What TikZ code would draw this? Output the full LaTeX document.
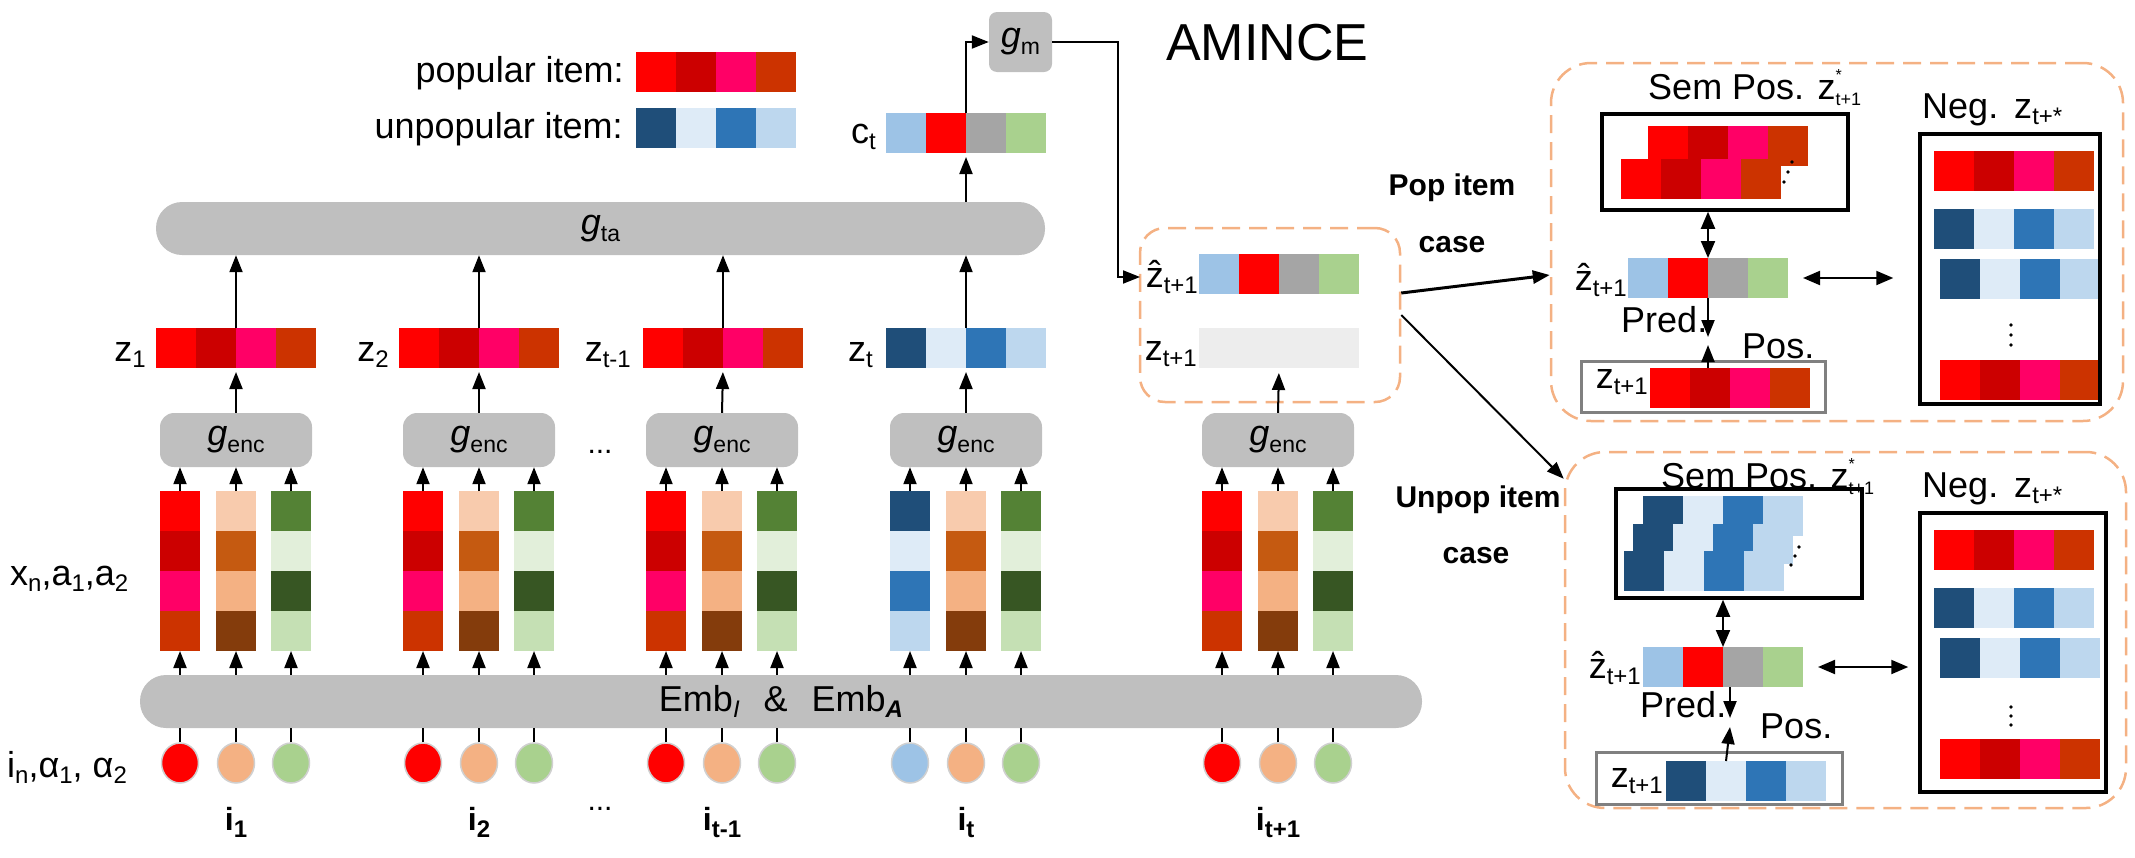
\documentclass[tikz,border=0pt]{standalone}
\usepackage{fontspec}
\setmainfont{Liberation Sans}
\usetikzlibrary{arrows.meta,shapes.geometric}

\definecolor{cR}{HTML}{FF0000}
\definecolor{cDR}{HTML}{CC0000}
\definecolor{cPk}{HTML}{FF0066}
\definecolor{cOR}{HTML}{CC3300}
\definecolor{bD}{HTML}{1F4E79}
\definecolor{bL}{HTML}{DEEBF7}
\definecolor{bM}{HTML}{2E75B6}
\definecolor{bLL}{HTML}{BDD7EE}
\definecolor{o1}{HTML}{F8CBAD}
\definecolor{o2}{HTML}{C55A11}
\definecolor{o3}{HTML}{F4B183}
\definecolor{o4}{HTML}{843C0C}
\definecolor{g1}{HTML}{548235}
\definecolor{g2}{HTML}{E2EFDA}
\definecolor{g3}{HTML}{375623}
\definecolor{g4}{HTML}{C5E0B4}
\definecolor{q1}{HTML}{9DC3E6}
\definecolor{q3}{HTML}{A5A5A5}
\definecolor{q4}{HTML}{A9D18E}
\definecolor{gr}{HTML}{BFBFBF}
\definecolor{emp}{HTML}{EDEDED}
\definecolor{dsh}{HTML}{F4B183}
\definecolor{gbd}{HTML}{808080}
\definecolor{cbd}{HTML}{D0D0D0}

\def\popc{cR,cDR,cPk,cOR}
\def\unpc{bD,bL,bM,bLL}
\def\orgc{o1,o2,o3,o4}
\def\grnc{g1,g2,g3,g4}
\def\ctc{q1,cR,q3,q4}

\newcommand{\sbs}[1]{\raisebox{-6pt}{\fontsize{24}{26}\selectfont #1}}
\newcommand{\gl}[1]{{\fontsize{36}{40}\selectfont\itshape g}\raisebox{-7pt}{\fontsize{23}{25}\selectfont #1}}
\newcommand{\zh}{\ooalign{z\cr\hidewidth\raisebox{1pt}{ˆ}\hidewidth\cr}}
\newcommand{\ib}[1]{{\bfseries\fontsize{32}{36}\selectfont i\raisebox{-7pt}{\fontsize{24}{26}\selectfont #1}}}
\newcommand{\supsub}[2]{\makebox[0pt][l]{\raisebox{19pt}{\fontsize{16}{18}\selectfont #1}}\raisebox{-6pt}{\fontsize{18}{20}\selectfont #2}}

% bar of 4 cells: name, left, top, colours
\newcommand{\mkbar}[4]{%
  \node[cellbox, minimum width=160pt, minimum height=40pt] (#1) at ({#2+80},{#3+20}) {};
  \foreach \clr [count=\i from 0] in #4 {\fill[\clr] ({#2+40*\i},{#3}) rectangle ++(40,40);}%
}
% column of 4 cells: name, left, top, colours
\newcommand{\mkcol}[4]{%
  \node[cellbox, minimum width=40pt, minimum height=160pt] (#1) at ({#2+20},{#3+80}) {};
  \foreach \clr [count=\i from 0] in #4 {\fill[\clr] ({#2},{#3+40*\i}) rectangle ++(40,40);}%
}
% group: id, centre x, item colours, item circle colour, label
\newcommand{\grp}[5]{%
  \mkcol{a#1}{#2-76}{491}{#3}
  \mkcol{b#1}{#2-20}{491}{\orgc}
  \mkcol{c#1}{#2+35}{491}{\grnc}
  \node[gbox] (enc#1) at (#2,440) {\gl{enc}};
  \node[circ, fill=#4] (ca#1) at ({#2-56},763) {};
  \node[circ, fill=o3] (cb#1) at ({#2},763) {};
  \node[circ, fill=q4] (cc#1) at ({#2+55},763) {};
  \foreach \n in {a,b,c} {
    \draw[plain] (c\n#1.north) -- (c\n#1.north |- emb.south);
    \draw[arr] (\n#1.south |- emb.north) -- (\n#1.south);
    \draw[arr] (\n#1.north) -- (\n#1.north |- enc#1.south);
  }
  \node[anchor=base, inner sep=0] (il#1) at (#2,830) {\ib{#5}};
}

\tikzset{
  arr/.style={line width=2pt, -{Triangle[length=17pt,width=13pt]}},
  dbl/.style={line width=2pt, {Triangle[length=17pt,width=14pt]}-{Triangle[length=17pt,width=14pt]}},
  plain/.style={line width=2pt},
  cellbox/.style={inner sep=0, outer sep=0, draw=none},
  gbar/.style={fill=gr, rounded corners=26pt, inner sep=0, minimum height=53pt, font=\fontsize{36}{40}\selectfont},
  gbox/.style={fill=gr, rounded corners=14pt, inner sep=0, minimum width=152pt, minimum height=54pt},
  circ/.style={ellipse, draw=cbd, line width=1.5pt, inner sep=0, minimum width=37pt, minimum height=40pt},
  dbox/.style={draw=dsh, dash pattern=on 18pt off 9pt, line width=2.5pt, inner sep=0},
  blk/.style={draw=black, line width=3.5pt, inner sep=0},
  gryb/.style={draw=gbd, line width=3pt, inner sep=0},
  lab/.style={font=\fontsize{36}{40}\selectfont, inner sep=0},
  bl/.style={font=\bfseries\fontsize{30}{34}\selectfont, inner sep=0},
}

\begin{document}
\begin{tikzpicture}[x=1pt,y=-1pt]
\useasboundingbox (0,0) rectangle (2135,857);

% legend
\node[lab, anchor=base east] (poplab) at (624,82) {popular item:};
\mkbar{popleg}{636}{52}{\popc}
\node[lab, anchor=base east] (unplab) at (623,138) {unpopular item:};
\mkbar{unpleg}{636}{108}{\unpc}

% grey layers
\node[gbar, minimum width=889pt] (gta) at (600.5,228.5) {\gl{ta}};
\node[gbar, minimum width=1282pt] (emb) at (781,701.5)
  {Emb\sbs{\itshape I}\hspace{24pt}\&\hspace{24pt}Emb\sbs{\bfseries\itshape A}};
\node[fill=gr, rounded corners=8pt, minimum width=63pt, minimum height=60pt, inner sep=0] (gm) at (1020.5,42) {\gl{m}};
\node[font=\fontsize{52}{56}\selectfont, anchor=base west, inner sep=0] (title) at (1166,60) {AMINCE};

% c_t
\mkbar{ct}{886}{113}{\ctc}
\node[lab, anchor=base east] (ctlab) at (876,143) {c\sbs{t}};

% z bars
\mkbar{z1}{156}{328}{\popc}
\mkbar{z2}{399}{328}{\popc}
\mkbar{z3}{643}{328}{\popc}
\mkbar{z4}{886}{328}{\unpc}
\node[lab, anchor=base east] (z1lab) at (146,361) {z\sbs{1}};
\node[lab, anchor=base east] (z2lab) at (389,361) {z\sbs{2}};
\node[lab, anchor=base east] (z3lab) at (631,361) {z\sbs{t-1}};
\node[lab, anchor=base east] (z4lab) at (873,361) {z\sbs{t}};

% left labels
\node[lab, anchor=base west] (xlab) at (10,585) {x\sbs{n},a\sbs{1},a\sbs{2}};
\node[lab, anchor=base west] (ilab) at (7,777) {i\sbs{n},α\sbs{1}, α\sbs{2}};

% groups
\grp{1}{236}{\popc}{cR}{1}
\grp{2}{479}{\popc}{cR}{2}
\grp{3}{722}{\popc}{cR}{t-1}
\grp{4}{966}{\unpc}{q1}{t}
\grp{5}{1278}{\popc}{cR}{t+1}

\node[font=\fontsize{30}{34}\selectfont, anchor=base, inner sep=0] (dotsA) at (600,453) {...};
\node[font=\fontsize{30}{34}\selectfont, anchor=base, inner sep=0] (dotsB) at (600,810) {...};

% prediction box
\node[dbox, rounded corners=25pt, minimum width=260pt, minimum height=174pt] (predbox) at (1270,315) {};
\mkbar{zhp}{1199}{254}{\ctc}
\node[cellbox, fill=emp, minimum width=160pt, minimum height=40pt] (zp) at (1279,348) {};
\node[lab, anchor=base east] (zhplab) at (1198,287) {\zh\sbs{t+1}};
\node[lab, anchor=base east] (zplab) at (1197,360) {z\sbs{t+1}};

% connectors left part
\foreach \k in {1,2,3,4} {
  \draw[arr, shorten >=4pt] (enc\k.north) -- (z\k.south);
  \draw[arr] (z\k.north) -- (z\k.north |- gta.south);
}
\draw[arr, shorten >=5pt] (enc5.north) -- (zp.south);
\draw[arr, shorten >=4pt] (ct.south |- gta.north) -- (ct.south);
\draw[arr] (ct.north) |- (gm.west);
\coordinate (zin) at (1140,277);
\draw[arr] (gm.east) -- ++(66,0) |- (zin);

% ---------- Pop case ----------
\node[dbox, rounded corners=40pt, minimum width=572pt, minimum height=358pt] (popbox) at (1837,242) {};
\node[bl, anchor=base] (poptxt) at (1452,195) {Pop item};
\node[bl, anchor=base] (popcase) at (1452,252) {case};
\draw[arr, line width=3pt] ([yshift=22pt]predbox.east) -- ([yshift=-33pt]popbox.west);

\mkbar{s1a}{1648}{126}{\popc}
\mkbar{s1b}{1621}{159}{\popc}
\fill (1784,182) circle (1.8) (1788,172) circle (1.8) (1792,162) circle (1.8);
\node[blk, minimum width=246pt, minimum height=96pt] (sem1) at (1725,162) {};
\node[lab, anchor=base west] (semlab1) at (1648,99) {Sem Pos. z\supsub{*}{t+1}};

\mkbar{n1a}{1934}{151}{\popc}
\mkbar{n1b}{1934}{209}{\unpc}
\mkbar{n1c}{1940}{259}{\unpc}
\mkbar{n1d}{1940}{360}{\popc}
\fill (2011,325) circle (1.8) (2011,335) circle (1.8) (2011,345) circle (1.8);
\node[blk, minimum width=180pt, minimum height=270pt] (neg1) at (2010,269) {};
\node[lab, anchor=base west] (neglab1) at (1922,118) {Neg.\hspace{16pt}z\sbs{t+*}};

\mkbar{zh1}{1628}{258}{\ctc}
\node[lab, anchor=base east] (zh1lab) at (1627,290) {\zh\sbs{t+1}};
\draw[dbl] (zh1.north) -- (zh1.north |- sem1.south);
\draw[dbl, shorten <=15pt, shorten >=25pt] (zh1.east) -- (zh1.east -| neg1.west);
\node[lab, anchor=base west] (pred1) at (1621,332) {Pred.};
\coordinate (pd1) at (1708,337);
\draw[arr] (zh1.south) -- (pd1);
\node[gryb, minimum width=244pt, minimum height=51pt] (zbox1) at (1703,386.5) {};
\mkbar{zb1}{1650}{368}{\popc}
\node[lab, anchor=base east] (zb1lab) at (1648,388) {z\sbs{t+1}};
\node[lab, anchor=base west] (pos1) at (1742,358) {Pos.};
\coordinate (ps1) at (1708,345);
\draw[arr] (zh1.south |- zb1.north) -- (ps1);

% ---------- Unpop case ----------
\node[dbox, rounded corners=40pt, minimum width=561pt, minimum height=356pt] (unpbox) at (1845.5,630) {};
\node[bl, anchor=base] (unptxt) at (1478,507) {Unpop item};
\node[bl, anchor=base] (unpcase) at (1476,563) {case};
\draw[arr] (predbox.east) -- ([yshift=-28pt]unpbox.north west);

\mkbar{s2a}{1643}{496}{\unpc}
\mkbar{s2b}{1633}{524}{\unpc}
\mkbar{s2c}{1624}{551}{\unpc}
\fill (1791,565) circle (1.8) (1795,556) circle (1.8) (1799,547) circle (1.8);
\node[blk, minimum width=246pt, minimum height=109pt] (sem2) at (1739,543.5) {};
\node[lab, anchor=base west] (semlab2) at (1661,488) {Sem Pos. z\supsub{*}{t+1}};

\mkbar{n2a}{1934}{530}{\popc}
\mkbar{n2b}{1934}{588}{\unpc}
\mkbar{n2c}{1940}{638}{\unpc}
\mkbar{n2d}{1940}{739}{\popc}
\fill (2011,707) circle (1.8) (2011,716) circle (1.8) (2011,725) circle (1.8);
\node[blk, minimum width=186pt, minimum height=279pt] (neg2) at (2013,652.5) {};
\node[lab, anchor=base west] (neglab2) at (1922,497) {Neg.\hspace{16pt}z\sbs{t+*}};

\mkbar{zh2}{1643}{647}{\ctc}
\node[lab, anchor=base east] (zh2lab) at (1641,678) {\zh\sbs{t+1}};
\draw[dbl] (zh2.north) -- (zh2.north |- sem2.south);
\draw[dbl, shorten <=15pt, shorten >=10pt] (zh2.east) -- (zh2.east -| neg2.west);
\node[lab, anchor=base west] (pred2) at (1640,717) {Pred.};
\coordinate (pd2) at (1730,718);
\draw[arr] ([xshift=7pt]zh2.south) -- (pd2);
\node[gryb, minimum width=246pt, minimum height=52pt] (zbox2) at (1719,778) {};
\mkbar{zb2}{1666}{761}{\unpc}
\node[lab, anchor=base east] (zb2lab) at (1663,787) {z\sbs{t+1}};
\node[lab, anchor=base west] (pos2) at (1760,738) {Pos.};
\coordinate (ps2) at (1730,727);
\draw[arr] ([xshift=-20pt]zb2.north) -- (ps2);
\end{tikzpicture}
\end{document}
